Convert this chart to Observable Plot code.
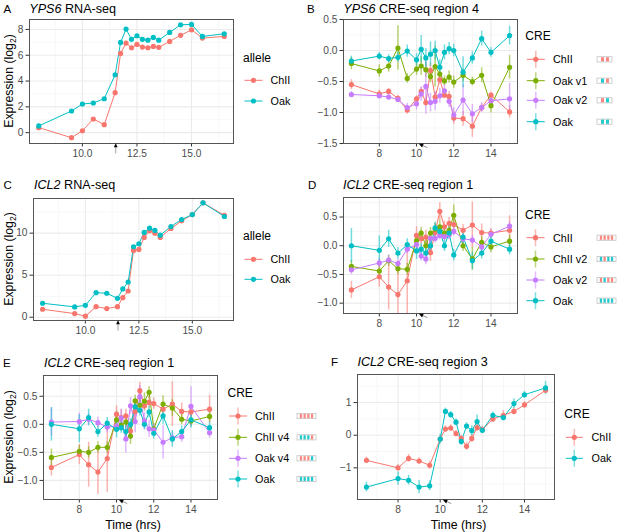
<!DOCTYPE html>
<html><head><meta charset="utf-8">
<script src="https://cdn.jsdelivr.net/npm/d3@7"></script>
<script src="https://cdn.jsdelivr.net/npm/@observablehq/plot@0.6"></script>
<style>
body{margin:0;background:#fff;font-family:"Liberation Sans",Arial,sans-serif;}
#root{position:relative;width:617px;height:532px;overflow:hidden;background:#fff;}
#root svg{position:absolute;overflow:visible;}
</style></head><body><div id="root"></div>
<script>
// ---------- colours ----------
const RED="#F8766D", GREEN="#7CAE00", PURPLE="#C77CFF", TEAL="#00BFC4";

// ---------- time points ----------
const rnaTimes=[8,9.5,10,10.5,11,11.5,11.75,12,12.25,12.5,12.75,13,13.25,13.5,14,14.5,15,15.5,16.5];
const creTimes=[6.5,8,8.5,9,9.5,10,10.25,10.5,10.75,11,11.25,11.5,11.75,12,12.5,13,13.5,14,15];

// ---------- A: YPS6 RNA-seq ----------
const yps6RnaChII=[0.39,-0.39,0.15,1.06,0.62,3.1,6.14,6.94,6.58,6.84,6.63,6.58,6.68,6.61,7.07,7.54,7.97,7.33,7.46];
const yps6RnaOak=[0.52,1.68,2.22,2.30,2.63,4.49,6.99,8.03,7.23,7.51,7.23,7.17,7.38,7.17,7.77,8.36,8.39,7.46,7.66];

// ---------- B: YPS6 CRE-seq region 4 ----------
const yps6R4ChII=[-0.55,-0.70,-0.66,-0.77,-0.96,-0.78,-0.66,-0.84,-0.32,-0.75,-0.47,-0.72,-0.74,-1.09,-1.10,-1.22,-0.92,-0.72,-0.99];
const yps6R4ChIIErr=[0.08,0.06,0.05,0.05,0.07,0.05,0.06,0.06,0.12,0.08,0.07,0.05,0.08,0.1,0.12,0.18,0.06,0.05,0.1];
const yps6R4OakV1=[-0.21,-0.33,-0.25,0.04,-0.45,-0.30,-0.25,-0.31,-0.42,-0.26,-0.38,-0.49,-0.43,-0.51,-0.40,-0.50,-0.40,-0.89,-0.27];
const yps6R4OakV1Err=[0.1,0.1,0.1,0.36,0.08,0.1,0.15,0.12,0.1,0.33,0.1,0.08,0.1,0.1,0.1,0.07,0.12,0.12,0.19];
const yps6R4OakV2=[-0.71,-0.73,-0.75,-0.79,-0.92,-0.86,-0.70,-0.58,-0.84,-0.82,-0.73,-0.65,-0.82,-1.04,-0.80,-1.02,-0.92,-0.81,-0.78];
const yps6R4OakV2Err=[0.05,0.05,0.05,0.05,0.07,0.1,0.12,0.45,0.15,0.15,0.12,0.1,0.1,0.12,0.25,0.15,0.08,0.1,0.25];
const yps6R4Oak=[-0.17,-0.09,-0.13,-0.11,-0.01,-0.15,0.02,-0.12,-0.06,0.0,-0.27,-0.03,0.03,0.0,-0.35,-0.12,0.19,-0.03,0.24];
const yps6R4OakErr=[0.08,0.06,0.06,0.08,0.1,0.1,0.22,0.15,0.2,0.15,0.12,0.12,0.1,0.1,0.25,0.1,0.12,0.08,0.15];

// ---------- C: ICL2 RNA-seq ----------
const icl2RnaChII=[0.95,0.43,0.12,1.26,1.03,1.26,2.33,3.12,7.94,8.06,9.49,10.28,10.0,9.49,10.55,11.46,12.21,13.6,12.13];
const icl2RnaOak=[1.66,1.23,1.42,2.92,2.85,2.25,3.36,4.19,8.38,8.74,10.08,10.59,10.32,9.76,10.79,11.62,12.21,13.6,11.98];

// ---------- D / E: ICL2 CRE-seq region 1 ----------
const icl2R1ChII=[-0.77,-0.54,-0.72,-0.85,-0.61,0.18,0.12,0.15,-0.12,0.23,0.60,0.33,0.39,0.37,0.27,0.36,0.23,0.22,0.27];
const icl2R1ChIIErr=[0.15,0.18,0.4,0.4,0.6,0.15,0.15,0.12,0.15,0.15,0.15,0.1,0.1,0.1,0.1,0.4,0.15,0.08,0.25];
const icl2R1ChIIv2=[-0.36,-0.44,-0.26,-0.40,-0.41,0.09,0.22,0.0,0.22,0.29,0.33,0.22,0.27,0.53,0.0,-0.23,0.06,-0.02,0.08];
const icl2R1ChIIv2Err=[0.1,0.1,0.1,0.1,0.1,0.12,0.1,0.1,0.1,0.1,0.12,0.1,0.1,0.18,0.1,0.2,0.1,0.1,0.1];
const icl2R1OakV2=[-0.42,-0.30,-0.25,-0.31,-0.06,0.02,-0.18,-0.23,0.13,0.13,0.18,0.16,0.19,0.25,0.12,0.10,-0.02,0.20,0.34];
const icl2R1OakV2Err=[0.08,0.08,0.08,0.08,0.08,0.08,0.08,0.1,0.08,0.08,0.08,0.08,0.08,0.08,0.08,0.08,0.08,0.08,0.08];
const icl2R1Oak=[0.0,-0.08,0.12,-0.13,0.02,-0.09,-0.06,-0.13,0.0,0.31,0.25,0.0,0.22,-0.16,0.15,-0.26,-0.13,0.08,-0.06];
const icl2R1OakErr=[0.3,0.25,0.15,0.1,0.1,0.15,0.1,0.15,0.1,0.1,0.1,0.1,0.1,0.1,0.15,0.15,0.1,0.15,0.1];
const icl2R1ChIIv4=[-0.59,-0.48,-0.50,-0.41,-0.41,0.08,-0.02,0.04,-0.21,0.42,0.34,0.41,0.57,-0.08,0.36,0.29,0.09,0.06,0.14];
const icl2R1ChIIv4Err=[0.15,0.1,0.1,0.1,0.1,0.15,0.1,0.1,0.15,0.1,0.1,0.15,0.1,0.1,0.15,0.15,0.1,0.1,0.1];
const icl2R1OakV4=[0.04,0.05,0.09,0.03,-0.05,-0.03,0.11,-0.26,0.33,0.05,0.49,0.06,-0.08,-0.10,-0.32,-0.24,-0.22,0.32,-0.15];
const icl2R1OakV4Err=[0.25,0.15,0.1,0.1,0.1,0.1,0.15,0.25,0.15,0.2,0.2,0.15,0.15,0.1,0.3,0.1,0.1,0.35,0.1];

// ---------- F: ICL2 CRE-seq region 3 ----------
const icl2R3ChII=[-0.77,-1.0,-0.71,-0.79,-0.92,-0.12,0.19,0.22,0.05,-0.10,-0.34,-0.10,0.23,0.17,0.50,0.61,0.73,0.93,1.38];
const icl2R3ChIIErr=[0.1,0.1,0.12,0.1,0.12,0.1,0.1,0.1,0.1,0.1,0.12,0.12,0.1,0.1,0.1,0.15,0.1,0.1,0.1];
const icl2R3Oak=[-1.59,-1.33,-1.38,-1.59,-1.55,-0.12,0.73,0.63,0.40,-0.19,0.28,0.14,0.42,0.15,0.61,0.54,0.97,1.24,1.45];
const icl2R3OakErr=[0.15,0.2,0.15,0.2,0.15,0.15,0.1,0.1,0.1,0.12,0.1,0.15,0.2,0.1,0.1,0.1,0.15,0.1,0.2];

// ---------- tick labels / annotations ----------
const rnaXTicks=[10,12.5,15], rnaXMinor=[8.75,11.25,13.75,16.25];
const creXTicks=[8,10,12,14], creXMinor=[7,9,11,13,15];
const aYTicks=[0,2,4,6,8], aYMinor=[1,3,5,7];
const bYTicks=[-1.5,-1,-0.5,0,0.5], bYMinor=[-1.25,-0.75,-0.25,0.25];
const cYTicks=[0,5,10], cYMinor=[2.5,7.5,12.5];
const dYTicks=[-1,-0.5,0,0.5], dYMinor=[-0.75,-0.25,0.25,0.75];
const fYTicks=[-1,0,1], fYMinor=[-1.5,-0.5,0.5,1.5];
const rnaArrowTime=11.55, creArrowTime=10.15;

const FONT='"Liberation Sans", Arial, sans-serif';
const root=document.getElementById("root");
const M={l:40,r:8,t:6,b:26};
const fmt1=d3.format(".1f"), fmt0=d3.format("d");

function makePanel(cfg){
  const [l,t,r,b]=cfg.box;
  const rows=[];
  cfg.series.forEach(s=>s.values.forEach((v,i)=>rows.push({t:cfg.times[i],y:v,e:s.err?s.err[i]:0,s:s.name})));
  const marks=[
    Plot.gridX(cfg.xMinor,{stroke:"#F3F3F3",strokeOpacity:1,strokeWidth:0.7}),
    Plot.gridY(cfg.yMinor,{stroke:"#F3F3F3",strokeOpacity:1,strokeWidth:0.7}),
    Plot.gridX(cfg.xTicks,{stroke:"#EBEBEB",strokeOpacity:1,strokeWidth:1.1}),
    Plot.gridY(cfg.yTicks,{stroke:"#EBEBEB",strokeOpacity:1,strokeWidth:1.1}),
    Plot.axisX(cfg.xTicks,{tickFormat:cfg.xFmt,tickSize:3.5,tickPadding:2.5,fontSize:10.2,fill:"#4D4D4D",stroke:"#333",label:null}),
    Plot.axisY(cfg.yTicks,{tickFormat:cfg.yFmt,tickSize:3.5,tickPadding:2.5,fontSize:10.2,fill:"#4D4D4D",stroke:"#333",label:null}),
    Plot.line(rows,{x:"t",y:"y",stroke:"s",strokeWidth:1})
  ];
  if(cfg.errors) marks.push(Plot.ruleX(rows,{x:"t",y1:d=>d.y-d.e,y2:d=>d.y+d.e,stroke:"s",strokeOpacity:0.55,strokeWidth:1.5,clip:true}));
  marks.push(Plot.dot(rows,{x:"t",y:"y",fill:"s",r:2.6}));
  marks.push(Plot.frame({stroke:"#555",strokeWidth:1}));
  const p=Plot.plot({
    width:(r-l)+M.l+M.r, height:(b-t)+M.t+M.b,
    marginLeft:M.l, marginRight:M.r, marginTop:M.t, marginBottom:M.b,
    x:{domain:cfg.xDomain}, y:{domain:cfg.yDomain},
    color:{domain:cfg.series.map(s=>s.name), range:cfg.series.map(s=>s.color)},
    style:{fontFamily:FONT, background:"transparent"},
    marks
  });
  p.style.left=(l-M.l)+"px"; p.style.top=(t-M.t)+"px";
  root.appendChild(p);
  cfg.plot=p;
  return cfg;
}

const panels={
  A:makePanel({box:[29,19,233,143],times:rnaTimes,xDomain:[7.575,16.925],yDomain:[-0.84,8.77],
    xTicks:rnaXTicks,xMinor:rnaXMinor,yTicks:aYTicks,yMinor:aYMinor,xFmt:fmt1,yFmt:fmt0,errors:false,
    series:[{name:"ChII",color:RED,values:yps6RnaChII},{name:"Oak",color:TEAL,values:yps6RnaOak}]}),
  B:makePanel({box:[343,19,517,143],times:creTimes,xDomain:[6.075,15.425],yDomain:[-1.5,0.5],
    xTicks:creXTicks,xMinor:creXMinor,yTicks:bYTicks,yMinor:bYMinor,xFmt:fmt0,yFmt:fmt1,errors:true,
    series:[{name:"ChII",color:RED,values:yps6R4ChII,err:yps6R4ChIIErr},
            {name:"Oak v1",color:GREEN,values:yps6R4OakV1,err:yps6R4OakV1Err},
            {name:"Oak v2",color:PURPLE,values:yps6R4OakV2,err:yps6R4OakV2Err},
            {name:"Oak",color:TEAL,values:yps6R4Oak,err:yps6R4OakErr}]}),
  C:makePanel({box:[33,198,233,320],times:rnaTimes,xDomain:[7.575,16.925],yDomain:[-0.39,14.12],
    xTicks:rnaXTicks,xMinor:rnaXMinor,yTicks:cYTicks,yMinor:cYMinor,xFmt:fmt1,yFmt:fmt0,errors:false,
    series:[{name:"ChII",color:RED,values:icl2RnaChII},{name:"Oak",color:TEAL,values:icl2RnaOak}]}),
  D:makePanel({box:[343,197,517,313],times:creTimes,xDomain:[6.075,15.425],yDomain:[-1.18,0.84],
    xTicks:creXTicks,xMinor:creXMinor,yTicks:dYTicks,yMinor:dYMinor,xFmt:fmt0,yFmt:fmt1,errors:true,
    series:[{name:"ChII",color:RED,values:icl2R1ChII,err:icl2R1ChIIErr},
            {name:"ChII v2",color:GREEN,values:icl2R1ChIIv2,err:icl2R1ChIIv2Err},
            {name:"Oak v2",color:PURPLE,values:icl2R1OakV2,err:icl2R1OakV2Err},
            {name:"Oak",color:TEAL,values:icl2R1Oak,err:icl2R1OakErr}]}),
  E:makePanel({box:[43,375,217,499],times:creTimes,xDomain:[6.075,15.425],yDomain:[-1.34,0.87],
    xTicks:creXTicks,xMinor:creXMinor,yTicks:dYTicks,yMinor:dYMinor,xFmt:fmt0,yFmt:fmt1,errors:true,
    series:[{name:"ChII",color:RED,values:icl2R1ChII,err:icl2R1ChIIErr},
            {name:"ChII v4",color:GREEN,values:icl2R1ChIIv4,err:icl2R1ChIIv4Err},
            {name:"Oak v4",color:PURPLE,values:icl2R1OakV4,err:icl2R1OakV4Err},
            {name:"Oak",color:TEAL,values:icl2R1Oak,err:icl2R1OakErr}]}),
  F:makePanel({box:[357,374,554,499],times:creTimes,xDomain:[6.075,15.425],yDomain:[-1.97,1.86],
    xTicks:creXTicks,xMinor:creXMinor,yTicks:fYTicks,yMinor:fYMinor,xFmt:fmt0,yFmt:fmt0,errors:true,
    series:[{name:"ChII",color:RED,values:icl2R3ChII,err:icl2R3ChIIErr},
            {name:"Oak",color:TEAL,values:icl2R3Oak,err:icl2R3OakErr}]})
};

// ---------- overlay: titles, legends, annotations ----------
const svg=d3.select(root).append("svg").attr("width",617).attr("height",532)
  .style("left","0px").style("top","0px").style("pointer-events","none")
  .attr("font-family",FONT);

function label(x,y,txt){svg.append("text").attr("x",x).attr("y",y).attr("font-size",11.5).attr("fill","#000").text(txt);}
function title(x,y,gene,rest){
  const t=svg.append("text").attr("x",x).attr("y",y).attr("font-size",12.6).attr("fill","#000");
  t.append("tspan").attr("font-style","italic").text(gene);
  t.append("tspan").text(" "+rest);
}
label(3.5,12.5,"A"); title(29.3,12.5,"YPS6","RNA-seq");
label(307,12.5,"B"); title(343.3,12.5,"YPS6","CRE-seq region 4");
label(3.5,189,"C"); title(34,189,"ICL2","RNA-seq");
label(308,188.5,"D"); title(343,188.5,"ICL2","CRE-seq region 1");
label(3,366.5,"E"); title(44,366.5,"ICL2","CRE-seq region 1");
label(331,366,"F"); title(357.5,366,"ICL2","CRE-seq region 3");

function yTitle(p){
  const [l,t,r,b]=p.box;
  const t2=svg.append("text").attr("transform",`translate(12.5,${(t+b)/2}) rotate(-90)`)
    .attr("text-anchor","middle").attr("font-size",12.3).attr("fill","#000");
  t2.append("tspan").text("Expression (log");
  t2.append("tspan").attr("font-size",8.5).attr("dy",3).text("2");
  t2.append("tspan").attr("dy",-3).text(")");
}
yTitle(panels.A); yTitle(panels.C); yTitle(panels.E);
function xTitle(p){
  const [l,t,r,b]=p.box;
  svg.append("text").attr("x",(l+r)/2+3).attr("y",529).attr("text-anchor","middle")
    .attr("font-size",12.3).attr("fill","#000").text("Time (hrs)");
}
xTitle(panels.E); xTitle(panels.F);

// arrows under the time axis
function arrow(p,time,diag){
  const [l,t,r,b]=p.box;
  const x=(l-M.l)+p.plot.scale("x").apply(time);
  if(!diag){
    svg.append("line").attr("x1",x).attr("x2",x).attr("y1",b+4).attr("y2",b+10.5).attr("stroke","#999").attr("stroke-width",0.9);
    svg.append("path").attr("d",`M${x},${b+0.3}L${x-1.9},${b+4.3}L${x+1.9},${b+4.3}Z`).attr("fill","#000");
  }else{
    const tx=x, ty=b+0.8, sx=x+8.5, sy=b+4.6;
    const dx=tx-sx, dy=ty-sy, L=Math.hypot(dx,dy), ux=dx/L, uy=dy/L;
    const hx=tx-ux*4.5, hy=ty-uy*4.5;
    svg.append("line").attr("x1",sx).attr("y1",sy).attr("x2",hx).attr("y2",hy).attr("stroke","#888").attr("stroke-width",0.9);
    svg.append("path").attr("d",`M${tx},${ty}L${hx-uy*2},${hy+ux*2}L${hx+uy*2},${hy-ux*2}Z`).attr("fill","#000");
  }
}
arrow(panels.A,rnaArrowTime,false); arrow(panels.C,rnaArrowTime,false);
arrow(panels.B,creArrowTime,true); arrow(panels.D,creArrowTime,true);
arrow(panels.E,creArrowTime,true); arrow(panels.F,creArrowTime,true);

// legends
const R="r", T="t";
function legend(p,o){
  svg.append("text").attr("x",o.x).attr("y",o.titleY).attr("font-size",12).attr("fill","#000").text(o.title);
  p.series.forEach((s,i)=>{
    const y=o.rows[i], x0=o.x+1.5, x1=x0+o.keyW, xm=(x0+x1)/2;
    if(o.err) svg.append("line").attr("x1",xm).attr("x2",xm).attr("y1",y-8.5).attr("y2",y+8.5)
      .attr("stroke",s.color).attr("stroke-opacity",0.5).attr("stroke-width",1.5);
    svg.append("line").attr("x1",x0).attr("x2",x1).attr("y1",y).attr("y2",y).attr("stroke",s.color).attr("stroke-width",1);
    svg.append("circle").attr("cx",xm).attr("cy",y).attr("r",2.6).attr("fill",s.color);
    svg.append("text").attr("x",o.labelX).attr("y",y+3.8).attr("font-size",10.8).attr("fill","#000").text(s.name);
    if(o.boxes){
      const segs=o.boxes[i], n=segs.length, bx=o.boxX, bw=n===2?15:19;
      svg.append("rect").attr("x",bx).attr("y",y-2.6).attr("width",bw).attr("height",5.2)
        .attr("fill","#fff").attr("stroke","#c4c4c4").attr("stroke-width",0.8);
      segs.forEach((c,j)=>{
        const sxp= n===2 ? bx+4+j*5 : bx+2.8+j*3.7;
        svg.append("rect").attr("x",sxp).attr("y",y-2.1).attr("width",n===2?3:2.3).attr("height",4.2)
          .attr("fill",c===R?RED:TEAL).attr("fill-opacity",0.85);
      });
    }
  });
}
legend(panels.A,{title:"allele",x:243,titleY:62,rows:[80.3,101],keyW:18,labelX:270.5,err:false});
legend(panels.C,{title:"allele",x:243,titleY:240,rows:[259.3,279.3],keyW:18,labelX:270.5,err:false});
legend(panels.B,{title:"CRE",x:525.3,titleY:40,rows:[59.3,80.7,100.3,121.7],keyW:18,labelX:553,err:true,
  boxX:597,boxes:[[R,R],[T,R],[R,T],[T,T]]});
legend(panels.D,{title:"CRE",x:525,titleY:219,rows:[237.7,259,280,300.7],keyW:18,labelX:553,err:true,
  boxX:597,boxes:[[R,R,R,R],[T,R,T,T],[R,T,R,R],[T,T,T,T]]});
legend(panels.E,{title:"CRE",x:227.5,titleY:397,rows:[416,437.3,458.3,479],keyW:18,labelX:255,err:true,
  boxX:297,boxes:[[R,R,R,R],[T,T,T,R],[R,R,R,T],[T,T,T,T]]});
legend(panels.F,{title:"CRE",x:564.3,titleY:418,rows:[437.3,458.3],keyW:17,labelX:591.5,err:true});
</script></body></html>
